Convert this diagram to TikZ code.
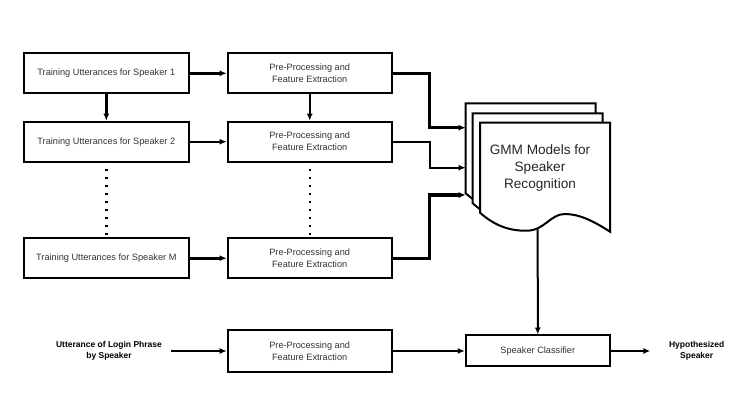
\documentclass[tikz,border=0pt]{standalone}
\usepackage{fontspec}
\setmainfont{Liberation Sans}
\usetikzlibrary{arrows.meta}
\definecolor{txt}{HTML}{333333}
\begin{document}
\begin{tikzpicture}[x=1pt,y=-1pt,
  box/.style={draw=black,line width=2pt,fill=white,rectangle,minimum height=40pt,align=center,
    font=\fontsize{9.2}{12}\selectfont,text=txt,inner sep=0pt},
  lbox/.style={box,minimum width=165pt},
  pbox/.style={box,minimum width=164pt},
  thin/.style={line width=2pt},
  thick/.style={line width=3.2pt},
  arr/.style={-{Latex[length=7pt,width=6pt]}},
  bold/.style={font=\fontsize{8.5}{10.5}\selectfont\bfseries,align=center,inner sep=0pt,text=black},
  page/.style={draw=black,line width=2pt,fill=white}]
\useasboundingbox (0,0) rectangle (756,414);

% left column
\node[lbox] (L1) at (106.3,73.3) {Training Utterances for Speaker 1};
\node[lbox] (L2) at (106.3,141.7) {Training Utterances for Speaker 2};
\node[lbox] (LM) at (106.3,258.2) {Training Utterances for Speaker M};
% middle column
\node[pbox] (P1) at (309.7,73.3) {Pre-Processing and\\Feature Extraction};
\node[pbox] (P2) at (309.7,141.7) {Pre-Processing and\\Feature Extraction};
\node[pbox] (PM) at (309.7,258.2) {Pre-Processing and\\Feature Extraction};
\node[pbox,minimum height=42pt] (PB) at (309.7,351) {Pre-Processing and\\Feature Extraction};
% classifier
\node[box,minimum width=144pt,minimum height=31pt] (SC) at (537.8,351) {Speaker Classifier};
% texts
\node[bold] (U) at (109,351) {Utterance of Login Phrase\\by Speaker};
\node[bold] (H) at (696.7,351) {Hypothesized\\Speaker};

% document stack
\foreach \dx/\dy in {-14.3/-19.4,-7.3/-9.4,0/0}{
  \begin{scope}[shift={(\dx,\dy)}]
  \draw[page] (480,122.7) -- (610,122.7) -- (610,231.7)
    .. controls (595,222) and (580,214) .. (565,214)
    .. controls (550,214) and (545,230.5) .. (526.7,230.7)
    .. controls (510,231) and (495,226) .. (480,212.7) -- cycle;
  \end{scope}
}
\node[align=center,font=\fontsize{13.6}{16.8}\selectfont,text=black!85,inner sep=0pt] (G) at (540,168)
  {GMM Models for\\Speaker\\Recognition};
\coordinate (d1) at (465.7,127.7);
\coordinate (d2) at (465.7,167.7);
\coordinate (d3) at (465.7,195);
\coordinate (dout) at (537.7,229.5);

% connectors
\draw[thick,arr] (L1.east) -- (P1.west);
\draw[thin,arr] (L2.east) -- (P2.west);
\draw[thick,arr] (LM.east) -- (PM.west);
\draw[thick,arr] (L1.south) -- (L2.north);
\draw[thin,arr] (P1.south) -- (P2.north);
\draw[line width=2.8pt,dash pattern=on 2.8pt off 5.2pt] ([yshift=2pt]L2.south) -- (LM.north);
\draw[line width=2.2pt,dash pattern=on 2.2pt off 5.8pt] ([yshift=2pt]P2.south) -- (PM.north);
\draw[line width=2.6pt,arr] (P1.east) -- ++(37,0) |- (d1);
\draw[thin,arr] (P2.east) -- ++(37,0) |- (d2);
\draw[thick,arr] (PM.east) -- ++(37,0) |- (d3);
\draw[thin,arr] (dout) -- (SC.north);
\draw[thin,arr,shorten <=9pt] (U.east) -- (PB.west);
\draw[thin,arr] (PB.east) -- (SC.west);
\draw[thin,arr,shorten >=18.5pt] (SC.east) -- (H.west);
\end{tikzpicture}
\end{document}
